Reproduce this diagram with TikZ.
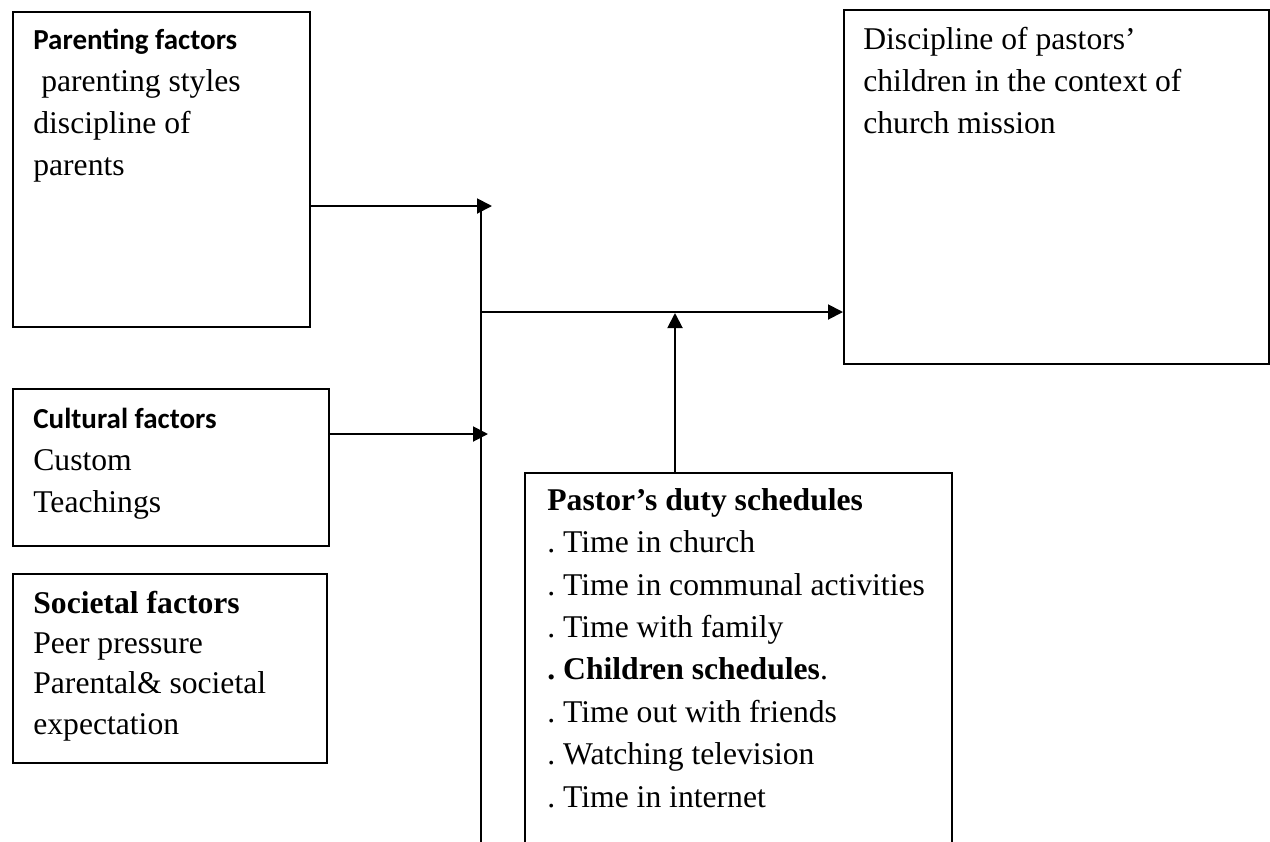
\documentclass[tikz,border=0pt]{standalone}
\usepackage{fontspec}
\setmainfont{Liberation Serif}
\newfontfamily\calibri{Carlito}
\frenchspacing
\usetikzlibrary{positioning,arrows.meta,calc}

\begin{document}
\begin{tikzpicture}[
    >={Triangle[length=3mm, width=3mm]},
    box/.style={
        draw=black,
        line width=1.1pt,
        anchor=north west,
        inner sep=0pt
    },
    txt/.style={
        anchor=base west,
        align=left,
        inner sep=0pt,
        font=\fontsize{18}{23.8}\selectfont
    },
    flow/.style={->, line width=1.1pt},
    bus/.style={line width=1.1pt}
]

% --- Frame ---
\useasboundingbox (0,0) rectangle (25.4,-16.82);

% --- Column x-positions ---
\def\xLeft{0.24}
\def\xBus{9.62}
\def\xPast{10.48}
\def\xDisc{16.86}

% --- Boxes ---
\node[box, minimum width=5.94cm, minimum height=6.30cm] (parbox)  at (\xLeft, -0.22) {};
\node[box, minimum width=6.32cm, minimum height=3.14cm] (culbox)  at (\xLeft, -7.76) {};
\node[box, minimum width=6.28cm, minimum height=3.78cm] (socbox)  at (\xLeft, -11.46) {};
\node[box, minimum width=8.50cm, minimum height=7.08cm] (discbox) at (\xDisc, -0.18) {};
\node[box, minimum width=8.54cm, minimum height=7.48cm] (pasbox)  at (\xPast, -9.44) {};

% --- Box texts (placed at the baseline of the last line) ---
\node[txt] (partxt) at (0.66, -3.50)
    {{\calibri\bfseries\fontsize{16.5}{23.8}\selectfont Parenting factors}\\
     \hspace*{4.5pt}parenting styles\\
     discipline of\\
     parents};

\node[txt] (cultxt) at (0.66, -10.24)
    {{\calibri\bfseries\fontsize{16.5}{23.8}\selectfont Cultural factors}\\
     Custom\\
     Teachings};

\node[txt, font=\fontsize{18}{22.8}\selectfont] (soctxt) at (0.66, -14.68)
    {\textbf{Societal factors}\\
     Peer pressure\\
     Parental\& societal\\
     expectation};

\node[txt] (disctxt) at (17.26, -2.66)
    {Discipline of pastors'\\
     children in the context of\\
     church mission};

\node[txt, font=\fontsize{18}{24.1}\selectfont] (pastxt) at (10.94, -16.14)
    {\textbf{Pastor's duty schedules}\\
     . Time in church\\
     . Time in communal activities\\
     . Time with family\\
     \textbf{. Children schedules}.\\
     . Time out with friends\\
     . Watching television\\
     . Time in internet};

% --- Junction points ---
\coordinate (jpar)   at (9.84, -4.12);
\coordinate (jcul)   at (9.76, -8.68);
\coordinate (bustop) at (\xBus, -4.20);
\coordinate (busbot) at (\xBus, -16.95);
\coordinate (busmid) at (\xBus, -6.24);
\coordinate (jup)    at (13.50, -6.26);

% --- Connectors ---
\draw[bus]  (bustop) -- (busbot);
\draw[flow] (parbox.east |- jpar) -- (jpar);
\draw[flow] (culbox.east |- jcul) -- (jcul);
\draw[flow] (busmid) -- (discbox.west |- busmid);
\draw[flow] (pasbox.north -| jup) -- (jup);

\end{tikzpicture}
\end{document}
